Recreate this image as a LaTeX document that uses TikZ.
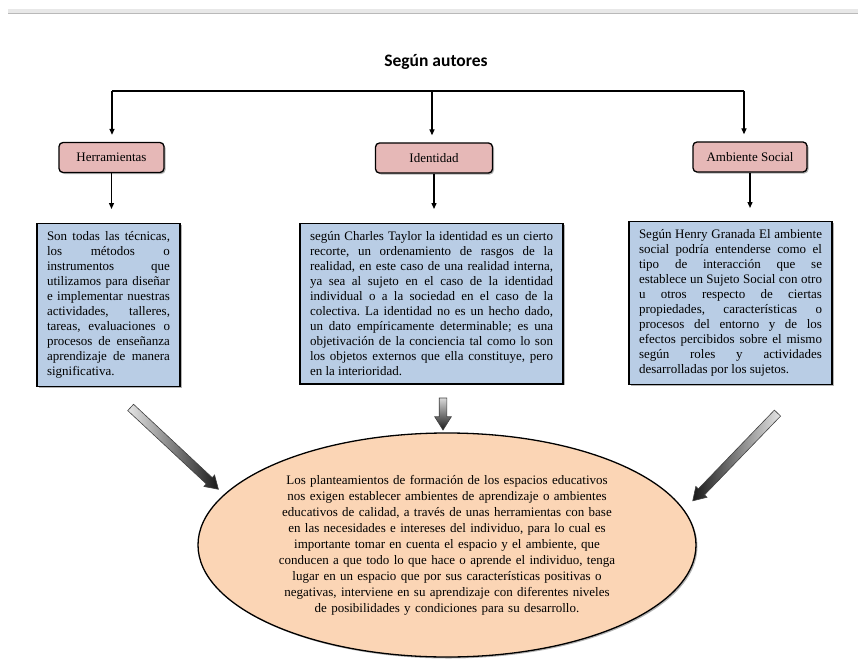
\documentclass[tikz,border=0pt]{standalone}
\usepackage{fontspec}
\setmainfont{Liberation Serif}
\newfontfamily\titlefont{Carlito}
\usepackage{tikz}
\usetikzlibrary{positioning}
\usetikzlibrary{arrows.meta}
\usetikzlibrary{shapes.geometric}
\usetikzlibrary{shapes.arrows}
\usetikzlibrary{shadows}
\tolerance=10000
\hbadness=10000
\frenchspacing

\definecolor{tagpink}{HTML}{E6B8B7}
\definecolor{boxblue}{HTML}{B9CDE5}
\definecolor{ovalpeach}{HTML}{FBD5B5}

\tikzset{
  tag/.style={rectangle,rounded corners=4pt,draw,line width=1.3pt,fill=tagpink,minimum height=30pt,
    font=\fontsize{13}{15}\selectfont,drop shadow={shadow xshift=1.5pt,shadow yshift=-1.5pt,opacity=.6}},
  textbox/.style={rectangle,draw,line width=1.3pt,fill=boxblue,anchor=north,inner xsep=10pt,inner ysep=8pt,
    align=justify,font=\fontsize{13}{15}\selectfont,drop shadow={shadow xshift=1.5pt,shadow yshift=-1.5pt,opacity=.6}},
  oval/.style={ellipse,draw,line width=1.3pt,fill=ovalpeach,minimum width=498pt,minimum height=224pt,inner sep=0pt,
    text width=345pt,align=center,font=\fontsize{13}{16}\selectfont,
    drop shadow={shadow xshift=1.5pt,shadow yshift=-1.5pt,opacity=.6}},
  fatarrow/.style={single arrow,draw=black!75,line width=.6pt,inner xsep=0pt,inner ysep=4pt,single arrow tip angle=64,
    single arrow head extend=3.5pt}
}

\begin{document}
\begin{tikzpicture}[x=1pt,y=1pt,>={Triangle[length=6pt,width=5pt]},line width=1.3pt]
  \useasboundingbox (0,0) rectangle (858,-663);
  % page rule
  \fill[gray!18] (8,-9) rectangle (858,-13);
  \draw[gray!55,line width=.8pt] (8,-13) -- (858,-13);

  \node[font=\titlefont\bfseries\fontsize{17.5}{20}\selectfont] (title) at (436,-62) {Según autores};

  \node[tag,minimum width=105pt] (herr) at (111.5,-157.5) {Herramientas};
  \node[tag,minimum width=117pt] (iden) at (434,-158)   {Identidad};
  \node[tag,minimum width=114pt] (amb)  at (750,-157)   {Ambiente Social};

  \node[textbox,text width=123pt] (herrtxt) at (108.5,-223) {Son todas las técnicas,\linebreak
    los métodos o\linebreak instrumentos que\linebreak utilizamos para diseñar\linebreak
    e implementar nuestras\linebreak actividades, talleres,\linebreak tareas, evaluaciones o\linebreak
    procesos de enseñanza\linebreak aprendizaje de manera\linebreak significativa.};
  \node[textbox,text width=243pt] (identxt) at (431.5,-223) {según Charles Taylor la identidad es un cierto\linebreak
    recorte, un ordenamiento de rasgos de la\linebreak realidad, en este caso de una realidad interna,\linebreak
    ya sea al sujeto en el caso de la identidad\linebreak individual o a la sociedad en el caso de la\linebreak
    colectiva. La identidad no es un hecho dado,\linebreak un dato empíricamente determinable; es una\linebreak
    objetivación de la conciencia tal como lo son\linebreak los objetos externos que ella constituye, pero\linebreak
    en la interioridad.};
  \node[textbox,text width=183pt] (ambtxt) at (730.5,-221) {Según Henry Granada El ambiente\linebreak
    social podría entenderse como el\linebreak tipo de interacción que se\linebreak
    establece un Sujeto Social con otro\linebreak u otros respecto de ciertas\linebreak
    propiedades, características o\linebreak procesos del entorno y de los\linebreak
    efectos percibidos sobre el mismo\linebreak según roles y actividades\linebreak
    desarrolladas por los sujetos.};

  \node[oval] (synth) at (447,-545) {Los planteamientos de formación de los espacios educativos\\
    nos exigen establecer ambientes de aprendizaje o ambientes\\
    educativos de calidad, a través de unas herramientas con base\\
    en las necesidades e intereses del individuo, para lo cual es\\
    importante tomar en cuenta el espacio y el ambiente, que\\
    conducen a que todo lo que hace o aprende el individuo, tenga\\
    lugar en un espacio que por sus características positivas o\\
    negativas, interviene en su aprendizaje con diferentes niveles\\
    de posibilidades y condiciones para su desarrollo.};

  % tree
  \coordinate (barL) at (112,-91);
  \coordinate (barM) at (432,-91);
  \coordinate (barR) at (744,-91);
  \draw (barL) -- (barR);
  \draw[->,shorten >=7pt] (barL) -- (barL |- herr.north);
  \draw[->,shorten >=7pt] (barM) -- (barM |- iden.north);
  \draw[->,shorten >=7pt] (barR) -- (barR |- amb.north);
  \draw[->,shorten >=14pt] (herr.south) -- (herr.south |- herrtxt.north);
  \draw[->,shorten >=14pt] (iden.south) -- (iden.south |- identxt.north);
  \draw[->,shorten >=13pt] (amb.south) -- (amb.south |- ambtxt.north);

  % fat arrows to the oval
  \node[fatarrow,minimum height=120pt,rotate=-43,left color=black!10,right color=black!90]  (leftarr)  at (172,-446) {};
  \node[fatarrow,minimum height=32pt,rotate=-90,single arrow head extend=4.5pt,inner ysep=3.5pt,
    top color=black!15,bottom color=black!90] (midarr) at (443,-411) {};
  \node[fatarrow,minimum height=122pt,rotate=-134,left color=black!90,right color=black!10] (rightarr) at (737.5,-454.5) {};
\end{tikzpicture}
\end{document}
